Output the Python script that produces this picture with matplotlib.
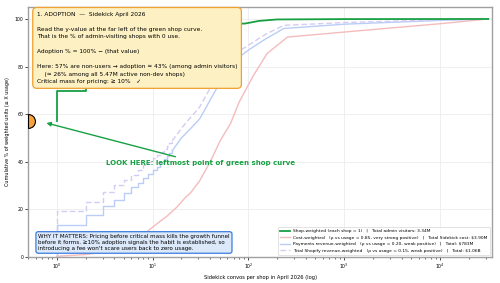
import matplotlib
matplotlib.use("Agg")
import matplotlib.pyplot as plt
from matplotlib.lines import Line2D
from matplotlib.path import Path

# ---------------- data ----------------
step_x = [1, 2, 3, 4, 5, 6, 7, 8, 9, 10, 11, 12, 13, 14, 15, 16]

shop_start = 57.0  # share of admin visitors with 0 use
shop_steps = [69.6, 76, 80, 83, 85, 87, 88.5, 89.5, 90.5, 91.5, 92.3, 93, 93.6, 94.1, 94.6, 95]
shop_tail_x = [16, 25, 40, 60, 93, 130, 200, 1000, 32000]
shop_tail_y = [95, 96.5, 97.3, 97.8, 98.1, 99.2, 99.8, 99.95, 100]

pay_steps = [13.6, 17.8, 21.3, 24, 26.7, 29.2, 31, 33, 35, 36.4, 38, 39.5, 41, 42.3, 43.5, 44.6]
pay_tail_x = [16, 20, 25, 31, 40, 50, 60, 80, 105, 150, 234, 1000, 10000, 32000]
pay_tail_y = [44.6, 50, 54, 58, 66, 73, 78, 84, 87.5, 91.5, 96, 97.8, 99.4, 100]

rev_steps = [19.2, 23.3, 27.1, 30.1, 32.5, 34.3, 36.5, 38.5, 40, 41.5, 43, 44.3, 45.5, 46.7, 47.8, 48.8]
rev_tail_x = [16, 20, 23, 31, 40, 51, 80, 105, 150, 234, 1000, 10000, 32000]
rev_tail_y = [48.8, 54, 57, 63, 71, 81, 86.5, 89.5, 93.5, 97.3, 98.5, 99.6, 100]

cost_x = [1, 2, 3, 4, 5, 6, 7, 8, 9, 10, 12, 14, 18, 22, 25, 31, 40, 51, 65, 80, 112, 157, 256, 1000, 10000, 32000]
cost_y = [0.3, 1, 2, 3, 4.5, 6, 7.5, 9, 11, 12.5, 15, 17, 21, 25, 27, 32, 40, 49, 56, 65, 76, 85.5, 92.4, 94.5, 98, 100]

legend_labels = [
    "Shop-weighted (each shop = 1)   |   Total admin visitors: 3.34M",
    "Cost-weighted   (ρ vs usage = 0.85, very strong positive)   |   Total Sidekick cost: $3.90M",
    "Payments revenue-weighted   (ρ vs usage = 0.20, weak positive)   |   Total: $783M",
    "Total Shopify revenue-weighted   (ρ vs usage = 0.15, weak positive)   |   Total: $1.06B",
]

GREEN = "#17a043"
RED = "#f4bcbc"
BLUE = "#b9cdf6"
PURPLE = "#d4ccf4"

fig = plt.figure(figsize=(5, 2.83), dpi=100)
ax = fig.add_axes([0.056, 0.092, 0.928, 0.883])

# cost-weighted
ax.plot(cost_x, cost_y, color=RED, lw=1.0, zorder=2)

# payments revenue-weighted: stairs at small integers, then the tail
ax.plot([step_x[0]] + step_x, [0] + pay_steps, color=BLUE, lw=1.0, drawstyle="steps-post", zorder=2)
ax.plot(pay_tail_x, pay_tail_y, color=BLUE, lw=1.0, zorder=2)

# total revenue-weighted (dashed)
ax.plot([step_x[0]] + step_x, [0] + rev_steps, color=PURPLE, lw=1.0, ls=(0, (4, 2)),
        drawstyle="steps-post", zorder=2)
ax.plot(rev_tail_x, rev_tail_y, color=PURPLE, lw=1.0, ls=(0, (4, 2)), zorder=2)

# shop-weighted
ax.plot([step_x[0]] + step_x, [shop_start] + shop_steps, color=GREEN, lw=1.3,
        drawstyle="steps-post", zorder=3)
ax.plot(shop_tail_x, shop_tail_y, color=GREEN, lw=1.3, zorder=3)

ax.set_xscale("log")
ax.set_xlim(0.5, 35000)
ax.set_ylim(0, 105)

# the zero-use point sits on the left edge, only its right half shows
ax.plot([0.5], [shop_start], marker=Path.unit_circle_righthalf(), ms=10, mfc="#f7a23b",
        mec="black", mew=0.8, ls="none", zorder=6)

ax.grid(True, which="major", color="#ececec", lw=0.6)
for s in ax.spines.values():
    s.set_color("#a0a0a0")
    s.set_linewidth(1.0)
ax.tick_params(labelsize=3.3, length=2, width=0.5, pad=1.5)
ax.tick_params(which="minor", length=1.2, width=0.4)
ax.set_yticks([0, 20, 40, 60, 80, 100])

ax.set_xlabel("Sidekick convos per shop in April 2026 (log)", fontsize=3.7, labelpad=3)
ax.set_ylabel("Cumulative % of weighted units (≤ X usage)", fontsize=3.5, labelpad=3)

# ------------- annotation boxes -------------
box1 = ("1. ADOPTION  —  Sidekick April 2026\n\n"
        "Read the y-value at the far left of the green shop curve.\n"
        "That is the % of admin-visiting shops with 0 use.\n\n"
        "Adoption % = 100% − (that value)\n\n"
        "Here: 57% are non-users → adoption ≈ 43% (among admin visitors)\n"
        "    (≈ 26% among all 5.47M active non-dev shops)\n"
        "Critical mass for pricing: ≥ 10%   ✓")
ax.text(0.019, 0.982, box1, transform=ax.transAxes, fontsize=4.2, va="top", ha="left",
        linespacing=1.63, zorder=7,
        bbox=dict(boxstyle="round,pad=0.7", fc="#fdf1c4", ec="#f0a030", lw=0.9))

box2 = ("WHY IT MATTERS: Pricing before critical mass kills the growth funnel\n"
        "before it forms. ≥10% adoption signals the habit is established, so\n"
        "introducing a fee won't scare users back to zero usage.")
ax.text(0.022, 0.024, box2, transform=ax.transAxes, fontsize=4.1, va="bottom", ha="left",
        linespacing=1.25, zorder=7,
        bbox=dict(boxstyle="round,pad=0.4", fc="#dce9fb", ec="#3b7ddd", lw=0.9))

ax.annotate("LOOK HERE: leftmost point of green shop curve", xy=(0.73, 56.6), xytext=(31.4, 39.4),
            fontsize=5, fontweight="bold", color=GREEN, ha="center", va="center", zorder=8,
            arrowprops=dict(arrowstyle="-|>", color=GREEN, lw=1.0, mutation_scale=6))

handles = [
    Line2D([], [], color=GREEN, lw=1.3),
    Line2D([], [], color=RED, lw=1.0),
    Line2D([], [], color=BLUE, lw=1.0),
    Line2D([], [], color=PURPLE, lw=1.0, ls=(0, (4, 2))),
]
leg = ax.legend(handles, legend_labels, loc="lower right", fontsize=3.15, frameon=True,
                handlelength=2.2, borderpad=0.5, labelspacing=0.55, fancybox=True)
leg.get_frame().set_edgecolor("#cccccc")
leg.get_frame().set_linewidth(0.5)

fig.savefig("out.png", dpi=100)
